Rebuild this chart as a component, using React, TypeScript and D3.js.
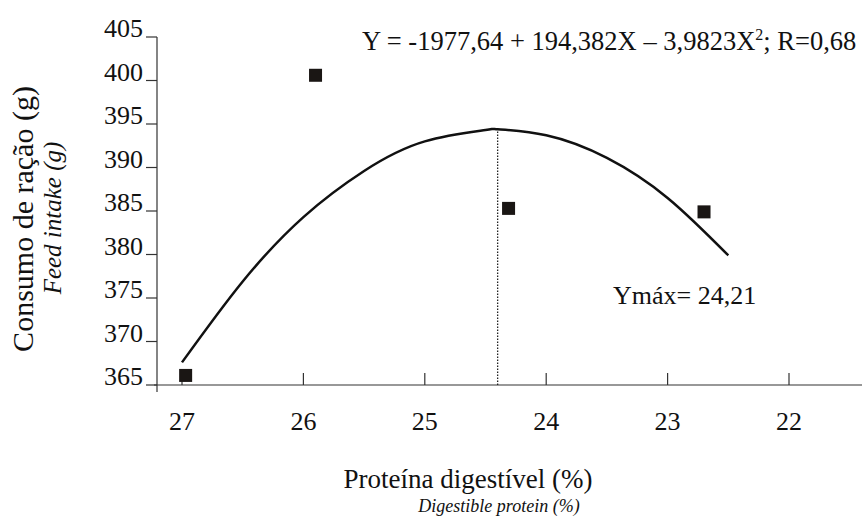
import { useEffect, useRef } from "react";
import * as d3 from "d3";

// observed points (digestible protein %, feed intake g)
const obsProtein = [26.97, 25.9, 24.31, 22.7];
const obsIntake = [366.1, 400.6, 385.3, 384.9];

// fitted curve
const fitProtein = [27, 26.5, 26, 25.5, 25, 24.5, 24.4, 24, 23.5, 23, 22.5];
const fitIntake = [367.6, 376.9, 384.3, 389.6, 393.0, 394.3, 394.4, 393.7, 391.1, 386.5, 379.9];

const yTicks = [365, 370, 375, 380, 385, 390, 395, 400, 405];
const xTicks = [27, 26, 25, 24, 23, 22];

const vertex = { x: 24.4, y: 394.4 };

const width = 863;
const height = 521;
const font = "'Liberation Serif', 'Times New Roman', serif";

export default function App() {
  const ref = useRef<SVGSVGElement | null>(null);

  useEffect(() => {
    if (!ref.current) return;
    const svg = d3.select(ref.current);
    svg.selectAll("*").remove();

    const x = d3.scaleLinear([27, 22], [182, 789]);
    const y = d3.scaleLinear([365, 405], [385, 37]);

    // axes lines
    svg
      .append("line")
      .attr("x1", 157)
      .attr("x2", 157)
      .attr("y1", y(405))
      .attr("y2", y(365) + 7)
      .attr("stroke", "#333")
      .attr("stroke-width", 1.2);
    svg
      .append("line")
      .attr("x1", 154)
      .attr("x2", 862)
      .attr("y1", y(365))
      .attr("y2", y(365))
      .attr("stroke", "#333")
      .attr("stroke-width", 1.2);

    // y ticks + labels
    const yt = svg.append("g").selectAll("g").data(yTicks).enter().append("g");
    yt.append("line")
      .attr("x1", 146)
      .attr("x2", 157)
      .attr("y1", (d) => y(d))
      .attr("y2", (d) => y(d))
      .attr("stroke", "#333")
      .attr("stroke-width", 1.2);
    yt.append("text")
      .attr("x", 143)
      .attr("y", (d) => y(d))
      .attr("text-anchor", "end")
      .attr("font-family", font)
      .attr("font-size", 26)
      .attr("fill", "#111")
      .text((d) => d);

    // x ticks + labels
    const xt = svg.append("g").selectAll("g").data(xTicks).enter().append("g");
    xt.append("line")
      .attr("x1", (d) => x(d))
      .attr("x2", (d) => x(d))
      .attr("y1", y(365) - 12)
      .attr("y2", y(365))
      .attr("stroke", "#333")
      .attr("stroke-width", 1.2);
    xt.append("text")
      .attr("x", (d) => x(d))
      .attr("y", 430)
      .attr("text-anchor", "middle")
      .attr("font-family", font)
      .attr("font-size", 26)
      .attr("fill", "#111")
      .text((d) => d);

    // dotted line at maximum
    svg
      .append("line")
      .attr("x1", x(vertex.x))
      .attr("x2", x(vertex.x))
      .attr("y1", y(365))
      .attr("y2", y(vertex.y))
      .attr("stroke", "#222")
      .attr("stroke-width", 1.3)
      .attr("stroke-dasharray", "1.5,1.5");

    // fitted curve
    const line = d3
      .line<number>()
      .x((d) => x(d))
      .y((_, i) => y(fitIntake[i]))
      .curve(d3.curveNatural);
    svg
      .append("path")
      .attr("d", line(fitProtein))
      .attr("fill", "none")
      .attr("stroke", "#111")
      .attr("stroke-width", 2.5);

    // squares
    const s = 13;
    svg
      .append("g")
      .selectAll("rect")
      .data(obsProtein)
      .enter()
      .append("rect")
      .attr("x", (d) => x(d) - s / 2)
      .attr("y", (_, i) => y(obsIntake[i]) - s / 2)
      .attr("width", s)
      .attr("height", s)
      .attr("fill", "#1a1614");

    // equation
    const eq = svg
      .append("text")
      .attr("x", 362)
      .attr("y", 50)
      .attr("font-family", font)
      .attr("font-size", 26.5)
      .attr("fill", "#111");
    eq.append("tspan").text("Y = -1977,64 + 194,382X – 3,9823X");
    eq.append("tspan").attr("dy", -10).attr("font-size", 16).text("2");
    eq.append("tspan").attr("dy", 10).text("; R=0,68");

    svg
      .append("text")
      .attr("x", 613)
      .attr("y", 304)
      .attr("font-family", font)
      .attr("font-size", 26)
      .attr("fill", "#111")
      .text("Ymáx= 24,21");

    // axis titles
    svg
      .append("text")
      .attr("x", 468)
      .attr("y", 488)
      .attr("text-anchor", "middle")
      .attr("font-family", font)
      .attr("font-size", 27)
      .attr("fill", "#111")
      .text("Proteína digestível (%)");
    svg
      .append("text")
      .attr("x", 499)
      .attr("y", 512)
      .attr("text-anchor", "middle")
      .attr("font-family", font)
      .attr("font-style", "italic")
      .attr("font-size", 18)
      .attr("fill", "#111")
      .text("Digestible protein (%)");

    svg
      .append("text")
      .attr("transform", "translate(33,219) rotate(-90)")
      .attr("text-anchor", "middle")
      .attr("font-family", font)
      .attr("font-size", 30)
      .attr("fill", "#111")
      .text("Consumo de ração (g)");
    svg
      .append("text")
      .attr("transform", "translate(61,218) rotate(-90)")
      .attr("text-anchor", "middle")
      .attr("font-family", font)
      .attr("font-style", "italic")
      .attr("font-size", 25)
      .attr("fill", "#111")
      .text("Feed intake (g)");
  }, []);

  return (
    <svg
      ref={ref}
      width={width}
      height={height}
      style={{ position: "absolute", left: 0, top: 0, background: "#fff" }}
    />
  );
}
